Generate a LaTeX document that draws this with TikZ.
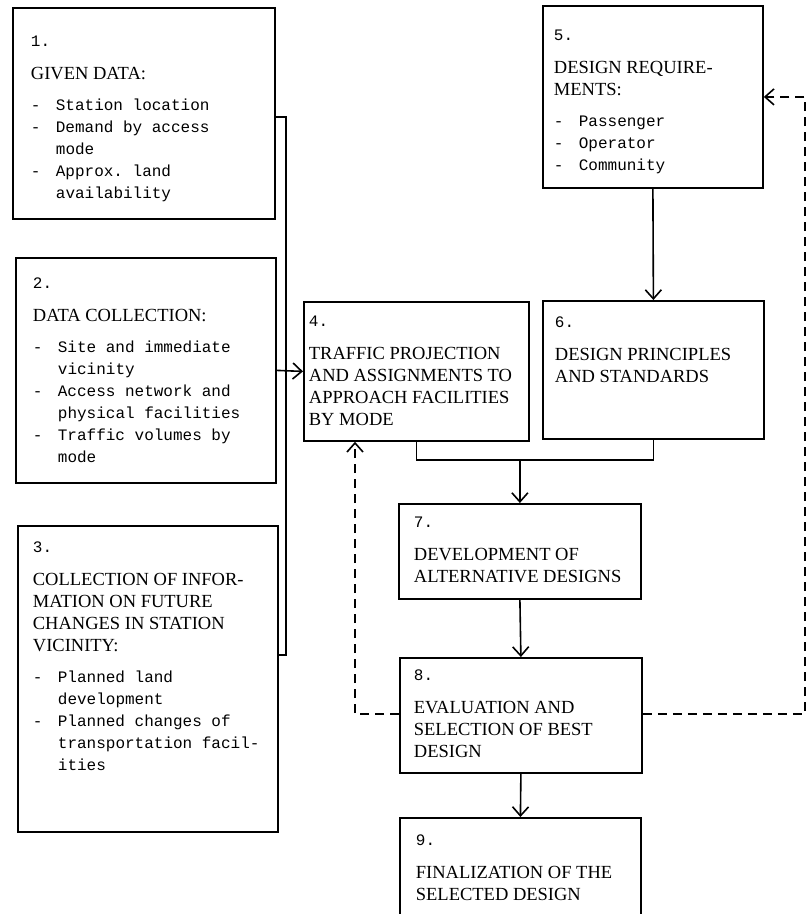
\documentclass[tikz,border=0pt]{standalone}
\usepackage{fontspec}
\setmainfont{Liberation Serif}
\setmonofont{Liberation Mono}
\usetikzlibrary{arrows.meta}

% box contents: width, height, body
\newcommand{\boxbody}[3]{\parbox[t][#2][t]{#1}{\fontsize{18.5}{22}\selectfont #3}}
\newcommand{\bnum}[2]{\rule{0pt}{#1}{\ttfamily\fontsize{16}{22}\selectfont #2}\par\vspace{11pt}}
\newcommand{\bhead}[1]{{\fontsize{18.5}{22}\selectfont #1\par}\vspace{9pt}}
\newcommand{\bitem}[1]{{\ttfamily\fontsize{16}{22}\selectfont\hangindent=25pt\hangafter=1\noindent\makebox[25pt][l]{-}#1\par}}

\tikzset{
  box/.style={draw, line width=1.8pt, anchor=north west, inner ysep=0pt},
  arr/.style={-{Straight Barb[length=9pt,width=16pt]}},
  fb/.style={dash pattern=on 9pt off 6pt}
}

\begin{document}
\begin{tikzpicture}[x=1pt, y=-1pt, line width=1.6pt]
	\clip (0,0) rectangle (808,914);

	\node (b1) at ( 12,   7)	[box, inner xsep=18pt]	{\boxbody{226pt}{211pt}{%
		\bnum{39pt}{1.}
		\bhead{GIVEN DATA:}
		\bitem{Station location}
		\bitem{Demand by access\\mode}
		\bitem{Approx. land\\availability}}};
	\node (b2) at ( 15, 257)	[box, inner xsep=17pt]	{\boxbody{226pt}{225pt}{%
		\bnum{31pt}{2.}
		\bhead{DATA COLLECTION:}
		\bitem{Site and immediate\\vicinity}
		\bitem{Access network and\\physical facilities}
		\bitem{Traffic volumes by\\mode}}};
	\node (b3) at ( 17, 525)	[box, inner xsep=15pt]	{\boxbody{230pt}{306pt}{%
		\bnum{27pt}{3.}
		\bhead{COLLECTION OF INFOR-\\MATION ON FUTURE\\CHANGES IN STATION\\VICINITY:}
		\bitem{Planned land\\development}
		\bitem{Planned changes of\\transportation facil-\\ities}}};
	\node (b4) at (303, 301)	[box, inner xsep=5pt]	{\boxbody{215pt}{139pt}{%
		\bnum{25pt}{4.}
		\bhead{TRAFFIC PROJECTION\\AND ASSIGNMENTS TO\\APPROACH FACILITIES\\BY MODE}}};
	\node (b5) at (542,   5)	[box, inner xsep=11pt]	{\boxbody{198pt}{182pt}{%
		\bnum{35pt}{5.}
		\bhead{DESIGN REQUIRE-\\MENTS:}
		\bitem{Passenger}
		\bitem{Operator}
		\bitem{Community}}};
	\node (b6) at (542, 300)	[box, inner xsep=12pt]	{\boxbody{197pt}{138pt}{%
		\bnum{27pt}{6.}
		\bhead{DESIGN PRINCIPLES\\AND STANDARDS}}};
	\node (b7) at (398, 503)	[box, inner xsep=15pt]	{\boxbody{212pt}{95pt}{%
		\bnum{24pt}{7.}
		\bhead{DEVELOPMENT OF\\ALTERNATIVE DESIGNS}}};
	\node (b8) at (399, 657)	[box, inner xsep=14pt]	{\boxbody{214pt}{115pt}{%
		\bnum{23pt}{8.}
		\bhead{EVALUATION AND\\SELECTION OF BEST\\DESIGN}}};
	\node (b9) at (399, 817)	[box, inner xsep=16pt]	{\boxbody{209pt}{110pt}{%
		\bnum{28pt}{9.}
		\bhead{FINALIZATION OF THE\\SELECTED DESIGN}}};

	% inputs 1-3 into 4
	\coordinate (j1) at (286, 117);
	\coordinate (j3) at (286, 655);
	\draw (b1.east |- j1) -- (j1) -- (j3) -- (b3.east |- j3);
	\draw[arr] (b2.east) -- (b4.west);

	\draw[arr] (b5.south) -- (b6.north);

	% 4 and 6 into 7
	\coordinate (m) at (b7.north |- 0,460);
	\draw (b4.south) |- (m) -| (b6.south);
	\draw[arr] (m) -- (b7.north);
	\draw[arr] (b7.south) -- (b8.north);
	\draw[arr] (b8.south) -- (b9.north);

	% feedback
	\coordinate (d1) at (355, 714);
	\coordinate (d2) at (805, 714);
	\draw[fb, arr] (b8.west |- d1) -- (d1) -- (d1 |- b4.south);
	\draw[fb, arr] (b8.east |- d2) -- (d2) |- (b5.east);
\end{tikzpicture}
\end{document}
